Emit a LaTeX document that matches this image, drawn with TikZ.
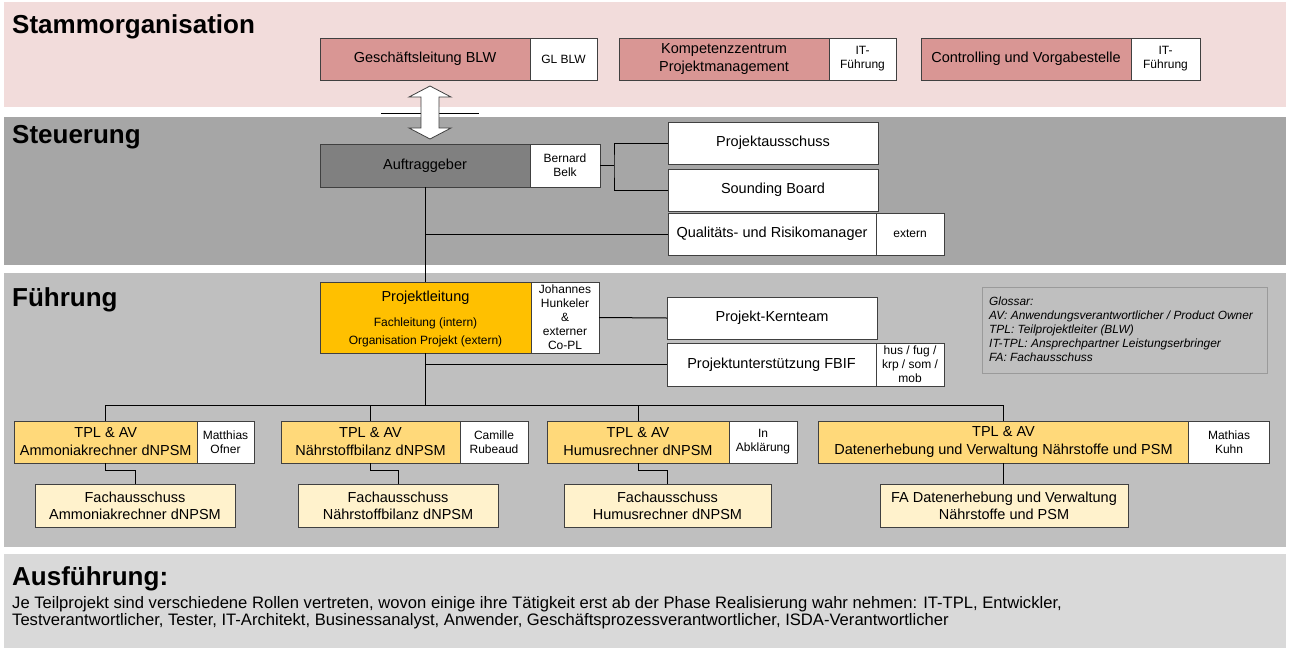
\documentclass[tikz,border=0pt]{standalone}
\usepackage{fontspec}
\setmainfont{Liberation Sans}
\definecolor{bandpink}{HTML}{F2DCDB}
\definecolor{bandsteu}{HTML}{A6A6A6}
\definecolor{bandfuehr}{HTML}{BFBFBF}
\definecolor{bandaus}{HTML}{D9D9D9}
\definecolor{pinkbox}{HTML}{D99694}
\definecolor{aggray}{HTML}{808080}
\definecolor{plorange}{HTML}{FFC000}
\definecolor{tplfill}{HTML}{FFD97A}
\definecolor{fafill}{HTML}{FFF2CC}
\definecolor{boxline}{HTML}{404040}
\definecolor{glossline}{HTML}{9A9A9A}
\newcommand\fmain{\fontsize{14.5}{18}\selectfont}
\newcommand\fsmall{\fontsize{12}{14}\selectfont}
\newcommand\ftitle{\fontsize{26}{30}\selectfont\bfseries}
\newcommand\fbody{\fontsize{16.6}{17}\selectfont}
\newcommand\fgloss{\fontsize{11.9}{14}\selectfont\itshape}
\begin{document}
\begin{tikzpicture}[x=1pt,y=-1pt,
  bx/.style={draw=boxline, line width=0.8pt, inner sep=0pt, outer sep=0pt, align=center, minimum height=42pt, font=\fmain},
  pinkb/.style={bx, fill=pinkbox},
  whiteb/.style={bx, fill=white, font=\fsmall},
  wbig/.style={bx, fill=white},
  tplb/.style={bx, fill=tplfill},
  fab/.style={bx, fill=fafill, minimum height=43pt, font=\fontsize{14.5}{17}\selectfont},
  conn/.style={draw=black, line width=1pt},
  ttl/.style={anchor=base west, inner sep=0pt, font=\ftitle},
  txt/.style={anchor=base west, inner sep=0pt}
]
\useasboundingbox (0,0) rectangle (1290,651);
% bands
\fill[bandpink] (4,2) rectangle (1286,107);
\fill[bandsteu] (4,117) rectangle (1286,265);
\fill[bandfuehr] (4,273) rectangle (1286,547);
\fill[bandaus] (4,554) rectangle (1286,648);

\node[ttl] (tstamm) at (12,33) {Stammorganisation};
\node[ttl] (tsteu) at (12,143) {Steuerung};
\node[ttl] (tfuehr) at (12,306) {Führung};
\node[ttl] (taus) at (12,585) {Ausführung:};

% Stammorganisation
\node[pinkb, minimum width=210pt] (gl) at (425,59) {Geschäftsleitung BLW};
\node[whiteb, minimum width=67pt, anchor=west] (glw) at (gl.east) {GL BLW};
\node[pinkb, minimum width=210pt] (kz) at (724,59) {Kompetenzzentrum\\Projektmanagement};
\node[whiteb, minimum width=67pt, anchor=west] (kzw) at (kz.east) {IT-\\Führung};
\node[pinkb, minimum width=210pt] (co) at (1026,59) {Controlling und Vorgabestelle};
\node[whiteb, minimum width=69pt, anchor=west] (cow) at (co.east) {IT-\\Führung};

% separator line and double arrow
\coordinate (sepL) at (381,113);
\coordinate (sepR) at (479,113);
\draw[black, line width=1pt] (sepL) -- (sepR);
\draw[fill=white, draw=boxline, line width=0.8pt]
  (430,86) -- (451,97) -- (439,97) -- (439,128) -- (451,128) -- (430,139)
  -- (409,128) -- (421,128) -- (421,97) -- (409,97) -- cycle;

% Steuerung
\node[bx, fill=aggray, minimum width=210pt, minimum height=43pt] (ag) at (425,165.5) {Auftraggeber};
\node[whiteb, minimum width=70pt, minimum height=43pt, anchor=west] (agw) at (ag.east) {Bernard\\Belk};
\node[wbig, minimum width=210pt] (pa) at (773,143) {Projektausschuss};
\node[wbig, minimum width=210pt] (sb) at (773,190) {Sounding Board};
\node[wbig, minimum width=208pt] (qr) at (772,234) {Qualitäts- und Risikomanager};
\node[whiteb, minimum width=68pt, anchor=west] (qrw) at (qr.east) {extern};

\coordinate (jA) at (614,165.5);
\draw[conn] (agw.east) -- (jA);
\draw[conn] (pa.west) -| (jA) |- (sb.west);

% Fuehrung
\node[bx, fill=plorange, minimum width=211pt, minimum height=71pt] (pl) at (425.5,317.5) {};
\node[font=\fmain, inner sep=0pt] (plt1) at (425.5,298) {Projektleitung};
\node[font=\fsmall, inner sep=0pt] (plt2) at (425.5,323) {Fachleitung (intern)};
\node[font=\fsmall, inner sep=0pt] (plt3) at (425.5,341) {Organisation Projekt (extern)};
\node[whiteb, minimum width=68pt, minimum height=71pt, anchor=west] (plw) at (pl.east) {Johannes\\Hunkeler\\\&\\externer\\Co-PL};
\node[wbig, minimum width=210pt] (kt) at (772,318) {Projekt-Kernteam};
\node[wbig, minimum width=209pt, minimum height=43pt] (pu) at (771.5,364.5) {Projektunterstützung FBIF};
\node[whiteb, minimum width=68pt, minimum height=43pt, anchor=west] (puw) at (pu.east) {hus / fug /\\krp / som /\\mob};

\draw[conn] (ag.south) -- (ag.south |- pl.north);
\draw[conn] (ag.south |- qr.west) -- (qr.west);
\draw[conn] (plw.east) -- (kt.west);
\draw[conn] (pl.south |- pu.west) -- (pu.west);

% Glossar
\node[draw=glossline, line width=0.8pt, minimum width=285pt, minimum height=86pt, inner sep=0pt] (glo) at (1124.5,330) {};
\node[txt, font=\fgloss] (g1) at (989,305) {Glossar:};
\node[txt, font=\fgloss] (g2) at (989,319) {AV: Anwendungsverantwortlicher / Product Owner};
\node[txt, font=\fgloss] (g3) at (989,333) {TPL: Teilprojektleiter (BLW)};
\node[txt, font=\fgloss] (g4) at (989,347) {IT-TPL: Ansprechpartner Leistungserbringer};
\node[txt, font=\fgloss] (g5) at (989,361) {FA: Fachausschuss};

% TPL row
\node[tplb, minimum width=182.5pt] (t1) at (105.75,442) {TPL \& AV\\Ammoniakrechner dNPSM};
\node[whiteb, minimum width=57pt, anchor=west] (t1w) at (t1.east) {Matthias\\Ofner};
\node[tplb, minimum width=179pt] (t2) at (370.5,442) {TPL \& AV\\Nährstoffbilanz dNPSM};
\node[whiteb, minimum width=68pt, anchor=west] (t2w) at (t2.east) {Camille\\Rubeaud};
\node[tplb, minimum width=182pt] (t3) at (638,442) {TPL \& AV\\Humusrechner dNPSM};
\node[whiteb, minimum width=68pt, anchor=west] (t3w) at (t3.east) {In\\Abklärung};
\node[tplb, minimum width=370pt] (t4) at (1003.5,442) {TPL \& AV\\Datenerhebung und Verwaltung Nährstoffe und PSM};
\node[whiteb, minimum width=81pt, anchor=west] (t4w) at (t4.east) {Mathias\\Kuhn};

% FA row
\node[fab, minimum width=200pt] (f1) at (135,505.5) {Fachausschuss\\Ammoniakrechner dNPSM};
\node[fab, minimum width=200pt] (f2) at (398,505.5) {Fachausschuss\\Nährstoffbilanz dNPSM};
\node[fab, minimum width=207pt] (f3) at (667.5,505.5) {Fachausschuss\\Humusrechner dNPSM};
\node[fab, minimum width=248pt] (f4) at (1004,505.5) {FA Datenerhebung und Verwaltung\\Nährstoffe und PSM};

\coordinate (bus) at (0,405);
\draw[conn] (pl.south) -- (pl.south |- bus);
\draw[conn] (t1.north |- bus) -- (t4.north |- bus);
\foreach \t in {t1,t2,t3,t4} \draw[conn] (\t.north |- bus) -- (\t.north);
\draw[conn] (t1.south) -- ++(0,7) -| (f1.north);
\draw[conn] (t2.south) -- ++(0,7) -| (f2.north);
\draw[conn] (t3.south) -- ++(0,7) -| (f3.north);
\draw[conn] (t4.south) -- (t4.south |- f4.north);

% Ausfuehrung text
\node[txt, font=\fbody] (a1) at (12,608) {Je Teilprojekt sind verschiedene Rollen vertreten, wovon einige ihre Tätigkeit erst ab der Phase Realisierung wahr nehmen: IT-TPL, Entwickler,};
\node[txt, font=\fbody] (a2) at (12,625) {Testverantwortlicher, Tester, IT-Architekt, Businessanalyst, Anwender, Geschäftsprozessverantwortlicher, ISDA-Verantwortlicher};
\end{tikzpicture}
\end{document}
